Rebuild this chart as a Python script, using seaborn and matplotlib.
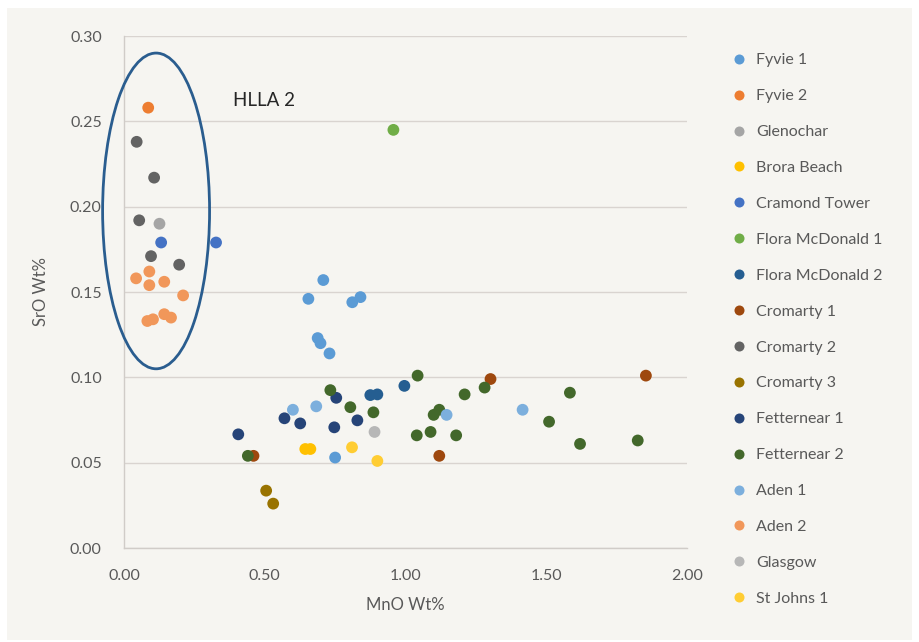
import pandas as pd
import matplotlib.pyplot as plt
import seaborn as sns
from matplotlib.patches import Ellipse

# MnO / SrO values per site
fyvie1_x = [0.708, 0.655, 0.811, 0.840, 0.688, 0.698, 0.730, 0.750]
fyvie1_y = [0.157, 0.146, 0.144, 0.147, 0.123, 0.120, 0.114, 0.053]
fyvie2_x = [0.086]
fyvie2_y = [0.258]
glenochar_x = [0.126]
glenochar_y = [0.190]
brora_x = [0.644, 0.662]
brora_y = [0.058, 0.058]
cramond_x = [0.132, 0.327]
cramond_y = [0.179, 0.179]
flora1_x = [0.957]
flora1_y = [0.245]
flora2_x = [0.875, 0.900, 0.996]
flora2_y = [0.0896, 0.090, 0.095]
cromarty1_x = [0.46, 1.12, 1.302, 1.854]
cromarty1_y = [0.054, 0.054, 0.099, 0.101]
cromarty2_x = [0.045, 0.107, 0.054, 0.096, 0.196]
cromarty2_y = [0.238, 0.217, 0.192, 0.171, 0.166]
cromarty3_x = [0.505, 0.530]
cromarty3_y = [0.0336, 0.026]
fetternear1_x = [0.406, 0.570, 0.626, 0.747, 0.754, 0.829]
fetternear1_y = [0.0666, 0.076, 0.073, 0.0707, 0.088, 0.0748]
fetternear2_x = [0.44, 0.733, 0.804, 0.886, 1.043, 1.04, 1.089, 1.10, 1.12, 1.18,
                 1.21, 1.281, 1.51, 1.584, 1.62, 1.825]
fetternear2_y = [0.054, 0.0925, 0.0825, 0.0795, 0.101, 0.066, 0.068, 0.078, 0.081, 0.066,
                 0.090, 0.094, 0.074, 0.091, 0.061, 0.063]
aden1_x = [0.600, 0.683, 1.146, 1.416]
aden1_y = [0.081, 0.083, 0.078, 0.081]
aden2_x = [0.043, 0.09, 0.09, 0.143, 0.21, 0.083, 0.103, 0.143, 0.167]
aden2_y = [0.158, 0.162, 0.154, 0.156, 0.148, 0.133, 0.134, 0.137, 0.135]
glasgow_x = [0.89]
glasgow_y = [0.068]
stjohns_x = [0.81, 0.90]
stjohns_y = [0.059, 0.051]

sites = ['Fyvie 1', 'Fyvie 2', 'Glenochar', 'Brora Beach', 'Cramond Tower',
         'Flora McDonald 1', 'Flora McDonald 2', 'Cromarty 1', 'Cromarty 2',
         'Cromarty 3', 'Fetternear 1', 'Fetternear 2', 'Aden 1', 'Aden 2',
         'Glasgow', 'St Johns 1']
xs = [fyvie1_x, fyvie2_x, glenochar_x, brora_x, cramond_x, flora1_x, flora2_x,
      cromarty1_x, cromarty2_x, cromarty3_x, fetternear1_x, fetternear2_x,
      aden1_x, aden2_x, glasgow_x, stjohns_x]
ys = [fyvie1_y, fyvie2_y, glenochar_y, brora_y, cramond_y, flora1_y, flora2_y,
      cromarty1_y, cromarty2_y, cromarty3_y, fetternear1_y, fetternear2_y,
      aden1_y, aden2_y, glasgow_y, stjohns_y]

colours = ['#5B9BD5', '#ED7D31', '#A5A5A5', '#FFC000', '#4472C4', '#70AD47',
           '#255E91', '#9E480E', '#636363', '#997300', '#264478', '#43682B',
           '#7CAFDD', '#F1975A', '#B7B7B7', '#FFCD33']

rows = []
for site, sx, sy in zip(sites, xs, ys):
    for a, b in zip(sx, sy):
        rows.append({'Site': site, 'MnO': a, 'SrO': b})
df = pd.DataFrame(rows)

sns.set_theme(style='white')
plt.rcParams['font.family'] = ['Lato', 'DejaVu Sans']
bg = '#F6F5F1'
text_col = '#595959'

fig = plt.figure(figsize=(9.19, 6.42), dpi=100, facecolor='white')
fig.patches.append(plt.Rectangle((7 / 919, 2 / 642), 905 / 919, 632 / 642,
                                 transform=fig.transFigure, facecolor=bg,
                                 edgecolor='none', zorder=-10))
ax = fig.add_axes([124 / 919, 1 - 548 / 642, 563 / 919, 512 / 642])
ax.set_facecolor(bg)

sns.scatterplot(data=df, x='MnO', y='SrO', hue='Site', hue_order=sites,
                palette=colours, s=72, linewidth=0, ax=ax, zorder=3)

ax.set_xlim(0, 2.0)
ax.set_ylim(0, 0.30)
ax.set_xticks([0, 0.5, 1.0, 1.5, 2.0])
ax.set_xticklabels(['0.00', '0.50', '1.00', '1.50', '2.00'])
ax.set_yticks([0, 0.05, 0.10, 0.15, 0.20, 0.25, 0.30])
ax.set_yticklabels(['0.00', '0.05', '0.10', '0.15', '0.20', '0.25', '0.30'])
ax.tick_params(labelsize=11.5, colors=text_col, length=0)
ax.tick_params(axis='x', pad=15)
ax.tick_params(axis='y', pad=16)
ax.yaxis.grid(True, color='#D9D4D0', linewidth=1)
ax.set_axisbelow(True)
for side in ['top', 'right']:
    ax.spines[side].set_visible(False)
for side in ['left', 'bottom']:
    ax.spines[side].set_color('#D0CCC8')
    ax.spines[side].set_linewidth(1)
ax.set_xlabel('MnO Wt%', fontsize=12, color=text_col, labelpad=10)
ax.set_ylabel('SrO Wt%', fontsize=12, color=text_col, labelpad=15)

# HLLA 2 grouping
ell = Ellipse((0.114, 0.1975), 0.38, 0.185, fill=False, edgecolor='#2A5D8F',
              linewidth=2, clip_on=False, zorder=4)
ax.add_patch(ell)
ax.text(0.388, 0.262, 'HLLA 2', fontsize=13.5, color='#262626', va='center')

sns.move_legend(ax, 'upper left', bbox_to_anchor=(1.052, 0.979), frameon=False,
                title=None, fontsize=11.5, labelspacing=1.36, handletextpad=0.1,
                markerscale=0.85, borderaxespad=0)
for t in ax.get_legend().get_texts():
    t.set_color(text_col)

fig.savefig('out.png', dpi=100, facecolor='white')
